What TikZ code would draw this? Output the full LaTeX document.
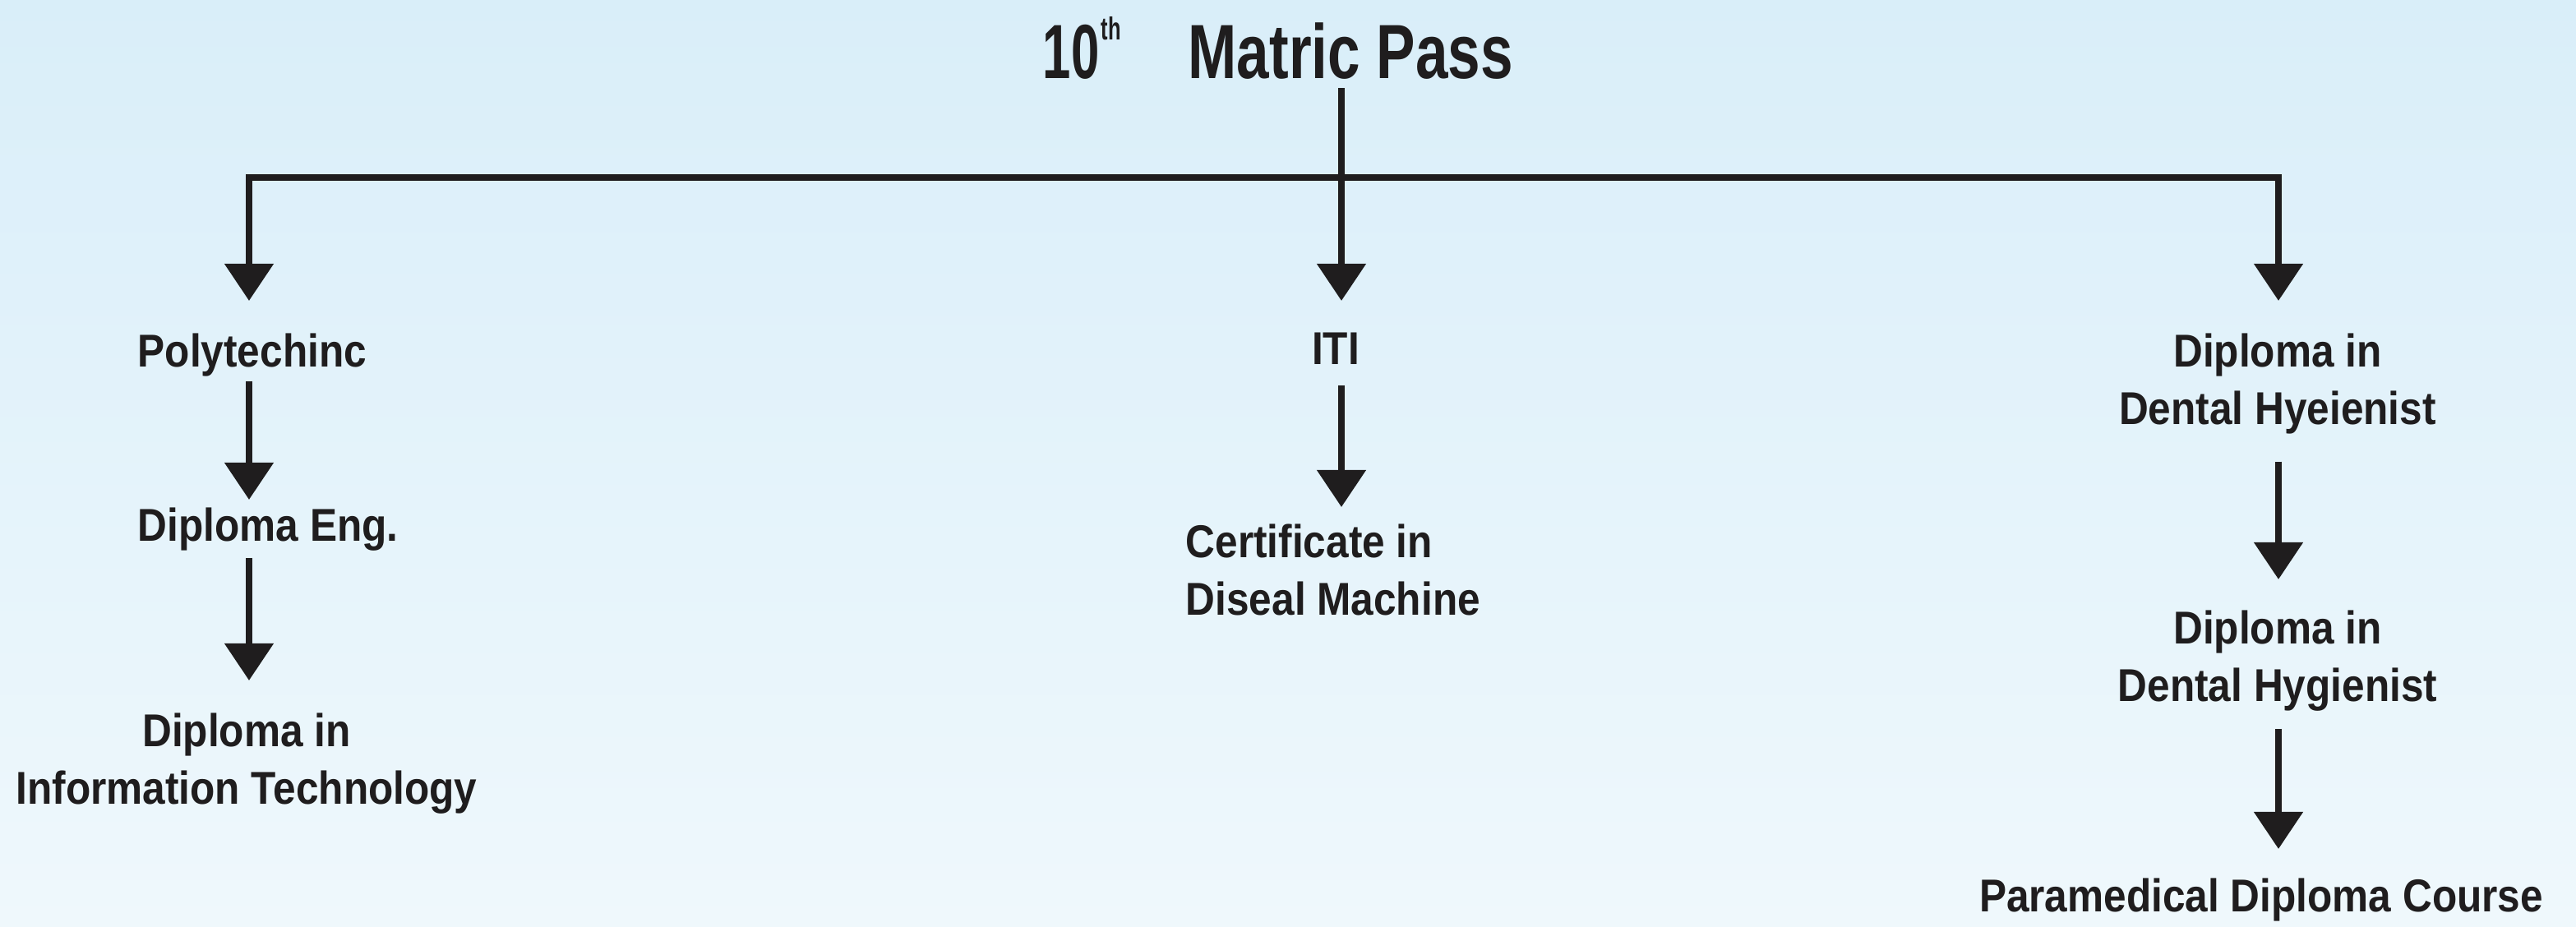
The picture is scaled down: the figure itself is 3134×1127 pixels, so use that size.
\documentclass[tikz,border=0pt]{standalone}
\usepackage{fontspec}
\usetikzlibrary{arrows.meta,calc}
\newfontfamily\bodyf{Liberation Sans}[FakeStretch=0.885]
\newfontfamily\titlef{Liberation Sans}[FakeStretch=0.76]
\newfontfamily\tenf{Liberation Sans}[FakeStretch=0.66]
\definecolor{ink}{HTML}{1F1D1E}
\definecolor{bgtop}{HTML}{D9EEF9}
\definecolor{bgbot}{HTML}{EFF8FC}
\tikzset{
  lbl/.style={inner sep=0pt, text=ink, align=center,
    font=\bodyf\bfseries\fontsize{15.93pt}{19.92pt}\selectfont},
  ttl/.style={inner sep=0pt, text=ink,
    font=\titlef\bfseries\fontsize{26.6pt}{30pt}\selectfont},
  line/.style={draw=ink, line width=0.8mm, line join=miter},
  arr/.style={line, -{Triangle[width=5.8mm,length=4.5mm]}},
}
\begin{document}
\begin{tikzpicture}[x=0.01cm,y=-0.01cm]
\useasboundingbox (0,0) rectangle (3134,1127);
\shade[top color=bgtop, bottom color=bgbot] (0,0) rectangle (3134,1127);

% title
\node[ttl, anchor=base west] (ten) at (1268,95)
  {{\tenf\bfseries 10}\hspace{0.6pt}\raisebox{13.2pt}{\tenf\bfseries\fontsize{11pt}{12pt}\selectfont th}};
\node[ttl, anchor=base west] (title) at (1445,95) {Matric Pass};

% left column
\node[lbl, anchor=north west, align=left] (poly) at (167,405) {Polytechinc};
\node[lbl, anchor=north west, align=left] (eng) at (167,617) {Diploma Eng.};
\node[lbl, anchor=north] (dipit) at (300,867) {Diploma in\\Information Technology};

% middle column
\node[lbl, anchor=north] (iti) at (1625,404) {ITI};
\node[lbl, anchor=north west, align=left] (cert) at (1442,637) {Certificate in\\Diseal Machine};

% right column
\node[lbl, anchor=north] (dh1) at (2771,405) {Diploma in\\Dental Hyeienist};
\node[lbl, anchor=north] (dh2) at (2771,742) {Diploma in\\Dental Hygienist};
\node[lbl, anchor=north] (para) at (2751,1068) {Paramedical Diploma Course};

% guide coordinates
\coordinate (top) at (1632,107);
\coordinate (hub) at (1632,216);
\coordinate (colL) at (303,216);
\coordinate (colR) at (2772,216);

% connectors
\draw[arr, shorten >=3.8mm] (top) -- (top |- iti.north);
\draw[arr, shorten >=3.9mm] (hub) -| (colL |- poly.north);
\draw[arr, shorten >=3.9mm] (hub) -| (colR |- dh1.north);

\draw[arr, shorten <=0.5mm, shorten >=0.9mm] (colL |- poly.south) -- (colL |- eng.north);
\draw[arr, shorten <=0.8mm, shorten >=3.9mm] (colL |- eng.south) -- (colL |- dipit.north);

\draw[arr, shorten <=2.5mm, shorten >=2.0mm] (top |- iti.south) -- (top |- cert.north);

\draw[arr, shorten <=3.3mm, shorten >=3.7mm] (colR |- dh1.south) -- (colR |- dh2.north);
\draw[arr, shorten <=2.1mm, shorten >=3.5mm] (colR |- dh2.south) -- (colR |- para.north);
\end{tikzpicture}
\end{document}
